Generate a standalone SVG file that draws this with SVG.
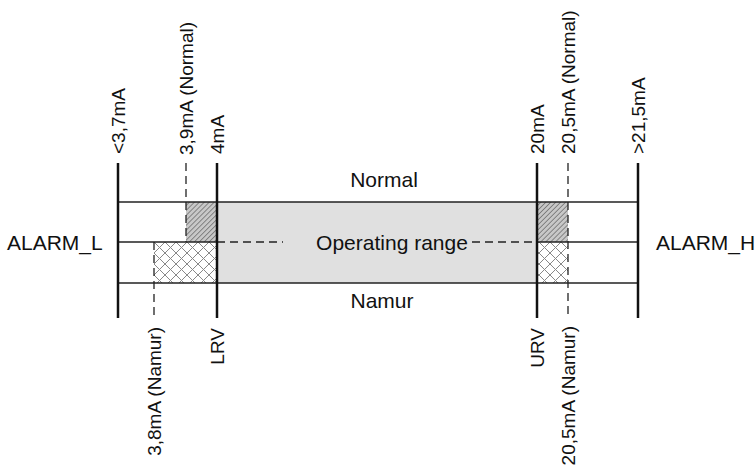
<svg xmlns="http://www.w3.org/2000/svg" width="756" height="467" viewBox="0 0 756 467">
<defs>
<pattern id="hatch" width="3.5" height="3.5" patternUnits="userSpaceOnUse" patternTransform="rotate(45)">
<rect width="3.5" height="3.5" fill="#c8c8c8"/>
<line x1="0" y1="0" x2="0" y2="3.5" stroke="#555" stroke-width="1.2"/>
</pattern>
<pattern id="cross" width="11" height="11" patternUnits="userSpaceOnUse" x="154" y="242">
<rect width="11" height="11" fill="#fff"/>
<path d="M0,0 L11,11 M11,0 L0,11" stroke="#888" stroke-width="1"/>
</pattern>
</defs>
<style>
.t{font-family:"Liberation Sans",Arial,sans-serif;font-size:21px;fill:#111}
.r{font-family:"Liberation Sans",Arial,sans-serif;font-size:19px;fill:#111}
.thick{stroke:#111;stroke-width:2.5;fill:none}
.h{stroke:#222;stroke-width:1.3;fill:none}
.d{stroke:#222;stroke-width:1.3;stroke-dasharray:8 5;fill:none}
</style>
<rect width="756" height="467" fill="#fff"/>
<g id="areas">
<rect x="217" y="202" width="320" height="81" fill="#e0e0e0"/>
<rect id="hatch-low-normal" x="186" y="202" width="31" height="40" fill="url(#hatch)"/>
<rect id="hatch-high-normal" x="537" y="202" width="31" height="40" fill="url(#hatch)"/>
<rect id="cross-low-namur" x="154" y="242" width="63" height="41" fill="url(#cross)"/>
<rect id="cross-high-namur" x="537" y="242" width="31" height="41" fill="url(#cross)"/>
</g>
<g id="connectors">
<line class="h" x1="118" y1="202" x2="638" y2="202" stroke="#666"/>
<line class="h" x1="118" y1="242" x2="217" y2="242"/>
<line class="h" x1="537" y1="242" x2="638" y2="242"/>
<line class="h" x1="118" y1="283" x2="638" y2="283"/>
<line class="d" x1="217" y1="242" x2="283" y2="242" stroke-dasharray="11 5"/>
<line class="d" x1="472" y1="242" x2="537" y2="242" stroke-dasharray="11 5"/>
<line class="d" x1="186" y1="163" x2="186" y2="242"/>
<line class="d" x1="154" y1="242" x2="154" y2="318"/>
<line class="d" x1="568" y1="163" x2="568" y2="318"/>
<line class="thick" x1="118" y1="163" x2="118" y2="318"/>
<line class="thick" x1="217" y1="163" x2="217" y2="318"/>
<line class="thick" x1="537" y1="163" x2="537" y2="318"/>
<line class="thick" x1="638" y1="163" x2="638" y2="318"/>
</g>
<g id="labels-center">
<text class="t" x="384" y="187" text-anchor="middle">Normal</text>
<text class="t" x="392" y="250" text-anchor="middle">Operating range</text>
<text class="t" x="382" y="308" text-anchor="middle">Namur</text>
</g>
<g id="alarm-l"><text class="t" x="7" y="250">ALARM_L</text></g>
<g id="alarm-h"><text class="t" x="656" y="250">ALARM_H</text></g>
<g id="top-labels">
<text class="r" transform="translate(125,154) rotate(-90)">&lt;3,7mA</text>
<text class="r" transform="translate(193,155) rotate(-90)">3,9mA (Normal)</text>
<text class="r" transform="translate(224,154) rotate(-90)">4mA</text>
<text class="r" transform="translate(544,154) rotate(-90)">20mA</text>
<text class="r" transform="translate(575,154) rotate(-90)">20,5mA (Normal)</text>
<text class="r" transform="translate(645,154) rotate(-90)">&gt;21,5mA</text>
</g>
<g id="bottom-labels">
<text class="r" text-anchor="end" transform="translate(161,327) rotate(-90)">3,8mA (Namur)</text>
<text class="r" text-anchor="end" transform="translate(224,328) rotate(-90)">LRV</text>
<text class="r" text-anchor="end" transform="translate(544,328) rotate(-90)">URV</text>
<text class="r" text-anchor="end" transform="translate(575,326) rotate(-90)">20,5mA (Namur)</text>
</g>
</svg>
